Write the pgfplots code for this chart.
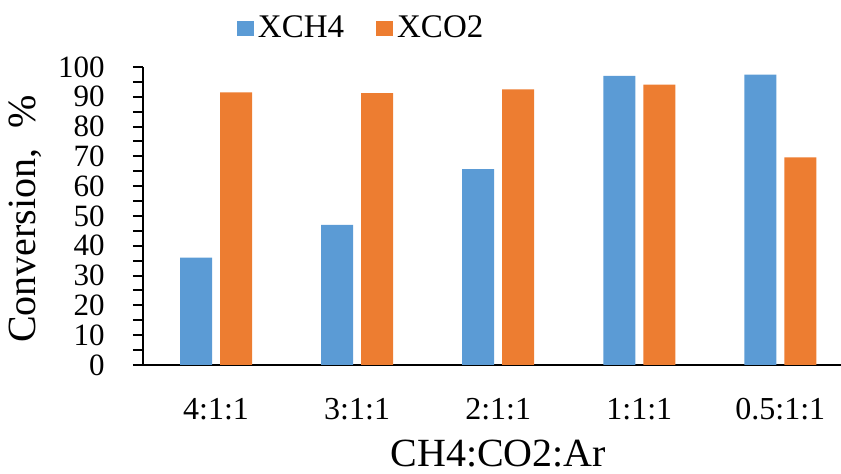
\documentclass[border=0pt]{standalone}
\usepackage{pgfplots}
\pgfplotsset{compat=1.18}
\usepackage{fontspec}
\setmainfont{Liberation Serif}
\definecolor{xblue}{HTML}{5B9BD5}
\definecolor{xorange}{HTML}{ED7D31}
\begin{document}
\begin{tikzpicture}
\begin{axis}[
  at={(0,0)}, anchor=south west,
  scale only axis,
  width=349pt, height=149pt,
  ybar=4pt, bar width=16pt,
  xmin=-0.518, xmax=4.43,
  ymin=0, ymax=100,
  axis x line*=bottom, axis y line*=left,
  axis line style={line width=1pt, black},
  xtick={0,1,2,3,4},
  xticklabels={4:1:1,3:1:1,2:1:1,1:1:1,0.5:1:1},
  x tick style={draw=none},
  ytick={0,10,...,100},
  minor ytick={5,15,...,95},
  tick align=outside,
  major tick length=5pt, minor tick length=5pt,
  y tick style={line width=1pt, black},
  /pgf/number format/assume math mode=true,
  xticklabel style={font=\fontsize{16}{18}\selectfont, anchor=base, inner sep=0pt, yshift=-22.5pt},
  yticklabel style={font=\fontsize{15.5}{17}\selectfont, anchor=east, inner sep=0pt, xshift=-14pt},
  xlabel={CH4:CO2:Ar},
  ylabel={Conversion,\ \ \%},
  xlabel style={font=\fontsize{20}{22}\selectfont, at={(axis description cs:0.509,-0.342)}, anchor=base},
  ylabel style={font=\fontsize{20}{22}\selectfont, at={(axis description cs:-0.169,0.49)}, anchor=center},
  legend style={at={(axis description cs:0.314,1.13)}, anchor=center, draw=none, fill=none,
    legend columns=2, font=\fontsize{16.5}{18}\selectfont,
    /tikz/every even column/.append style={column sep=14pt}},
  legend image code/.code={\fill[#1] (0pt,-3.75pt) rectangle (8.5pt,3.75pt);},
]
\addplot[fill=xblue, draw=none] coordinates {(0,36) (1,47) (2,65.7) (3,97) (4,97.4)};
\addplot[fill=xorange, draw=none] coordinates {(0,91.5) (1,91.2) (2,92.5) (3,94.1) (4,69.7)};
\legend{XCH4, XCO2}
\end{axis}
\pgfresetboundingbox
\useasboundingbox (-71.5pt,-54.5pt) rectangle (349pt,182.5pt);
\end{tikzpicture}
\end{document}
